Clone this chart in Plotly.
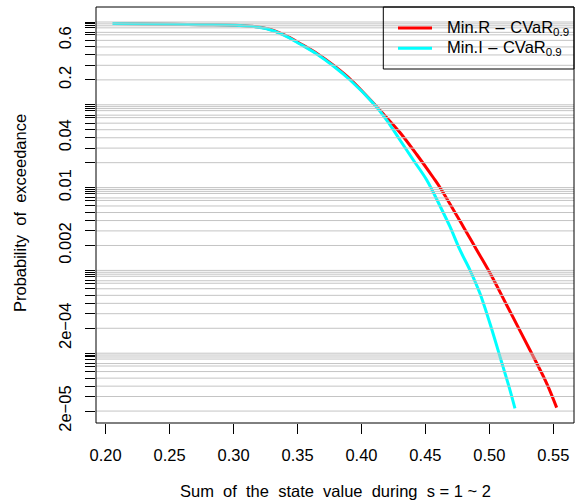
import plotly.graph_objects as go

# Exceedance curves: sum of the state value vs. P(X > x)
red_x = [0.2061, 0.2355, 0.2746, 0.3019, 0.3136, 0.3267, 0.3397, 0.3527, 0.3658,
         0.3788, 0.3919, 0.4119, 0.4207, 0.4301, 0.4432, 0.4561, 0.4614, 0.4796,
         0.4901, 0.5005, 0.5135, 0.5317, 0.5448, 0.5526]
red_p = [0.959, 0.946, 0.928, 0.915, 0.890, 0.828, 0.697, 0.542, 0.411,
         0.294, 0.1993, 0.0948, 0.0674, 0.0463, 0.0251, 0.01324, 0.01003, 0.00337,
         0.001764, 9.30e-4, 3.82e-4, 1.093e-4, 4.33e-5, 2.20e-5]

cyan_x = [0.2053, 0.2347, 0.2738, 0.3011, 0.3128, 0.3259, 0.3389, 0.3519, 0.3650,
          0.3780, 0.3911, 0.4092, 0.4197, 0.4301, 0.4405, 0.4510, 0.4614, 0.4692,
          0.4770, 0.4848, 0.4926, 0.5004, 0.5083, 0.5161, 0.5200]
cyan_p = [0.959, 0.946, 0.928, 0.915, 0.890, 0.828, 0.697, 0.542, 0.411,
          0.294, 0.1993, 0.1042, 0.0655, 0.0376, 0.02154, 0.01235, 0.0060, 0.00337,
          0.001764, 0.00101, 5.29e-4, 2.30e-4, 9.07e-5, 3.59e-5, 2.16e-5]

series_names = ["Min.R\u2004\u2013\u2004CVaR<sub>0.9</sub>",
                "Min.I\u2004\u2013\u2004CVaR<sub>0.9</sub>"]
series_colors = ["#ff0000", "#00ffff"]

x_ticks = [0.20, 0.25, 0.30, 0.35, 0.40, 0.45, 0.50, 0.55]
x_tick_labels = ["0.20", "0.25", "0.30", "0.35", "0.40", "0.45", "0.50", "0.55"]

y_mantissas = [1, 0.95, 0.9, 0.85, 0.75, 0.7, 0.6, 0.5, 0.4, 0.3, 0.2]
y_decades = [1, 1e-1, 1e-2, 1e-3, 1e-4]
y_label_vals = [0.6, 0.2, 0.04, 0.01, 0.002, 2e-4, 2e-5]
y_label_text = ["0.6", "0.2", "0.04", "0.01", "0.002", "2e\u221204", "2e\u221205"]

W, H = 580, 504
ML, MR, MT, MB = 96, 6, 7, 81
FONT = "Liberation Sans, Arial, Helvetica, sans-serif"

y_all_ticks = [float(f"{m * d:.6g}") for d in y_decades for m in y_mantissas]
y_minor_ticks = [v for v in y_all_ticks
                 if not any(abs(v / k - 1) < 1e-6 for k in y_label_vals)]

fig = go.Figure()
for xs, ps, col in [(red_x, red_p, series_colors[0]), (cyan_x, cyan_p, series_colors[1])]:
    fig.add_trace(go.Scatter(x=xs, y=ps, mode="lines",
                             line=dict(color=col, width=3, shape="spline", smoothing=1.0),
                             showlegend=False, hoverinfo="skip"))

plot_w = W - ML - MR
plot_h = H - MT - MB


def px_x(px):
    return (px - ML) / plot_w


def px_y(py):
    return (H - MB - py) / plot_h


shapes = []
# horizontal reference lines, drawn over the curves
for v in y_all_ticks:
    shapes.append(dict(type="line", xref="x domain", x0=0, x1=1, yref="y", y0=v, y1=v,
                       line=dict(color="#c4c4c4", width=1), layer="above"))
# plot frame
shapes.append(dict(type="rect", xref="paper", yref="paper", x0=0, x1=1, y0=0, y1=1,
                   line=dict(color="black", width=1), layer="above"))
# legend box and keys
lg_left, lg_bottom = 383.3, 69
shapes.append(dict(type="rect", xref="paper", yref="paper",
                   x0=px_x(lg_left), x1=1, y0=px_y(lg_bottom), y1=1,
                   line=dict(color="black", width=1), layer="above"))
key_rows = [28, 48.3]
annotations = []
for name, col, ry in zip(series_names, series_colors, key_rows):
    shapes.append(dict(type="line", xref="paper", yref="paper",
                       x0=px_x(398), x1=px_x(432), y0=px_y(ry), y1=px_y(ry),
                       line=dict(color=col, width=3), layer="above"))
    annotations.append(dict(xref="paper", yref="paper", x=px_x(444.5), y=px_y(ry),
                            xanchor="left", yanchor="middle", text=name, showarrow=False,
                            font=dict(family=FONT, size=16.5, color="black")))

annotations.append(dict(xref="paper", yref="paper", x=px_x(20), y=px_y(213),
                        text="Probability  of  exceedance", textangle=-90, showarrow=False,
                        xanchor="center", yanchor="middle",
                        font=dict(family=FONT, size=16.5, color="black")))
annotations.append(dict(xref="paper", yref="paper", x=px_x(335), y=px_y(491),
                        text="Sum  of  the  state  value  during  s = 1 ~ 2", showarrow=False,
                        xanchor="center", yanchor="middle",
                        font=dict(family=FONT, size=16.5, color="black")))

fig.update_layout(
    width=W, height=H,
    margin=dict(l=ML, r=MR, t=MT, b=MB, pad=0),
    paper_bgcolor="white", plot_bgcolor="white",
    font=dict(family=FONT, size=16.5, color="black"),
    shapes=shapes, annotations=annotations,
    xaxis=dict(range=[0.19244, 0.56616], tickvals=x_ticks, ticktext=x_tick_labels,
               ticks="outside", ticklen=10, tickcolor="black", tickwidth=1,
               ticklabelstandoff=7,
               showgrid=False, zeroline=False, showline=False,
               tickfont=dict(family=FONT, size=16.5, color="black")),
    yaxis=dict(type="log", range=[-4.8430, 0.1812],
               tickvals=y_label_vals, ticktext=y_label_text,
               ticks="outside", ticklen=10, tickcolor="black", tickwidth=1, tickangle=-90,
               ticklabelstandoff=7,
               minor=dict(tickmode="array", tickvals=y_minor_ticks, ticks="outside",
                          ticklen=10, tickcolor="black", tickwidth=1, showgrid=False),
               showgrid=False, zeroline=False, showline=False,
               tickfont=dict(family=FONT, size=16.5, color="black")),
)

fig.write_html("out.html")
